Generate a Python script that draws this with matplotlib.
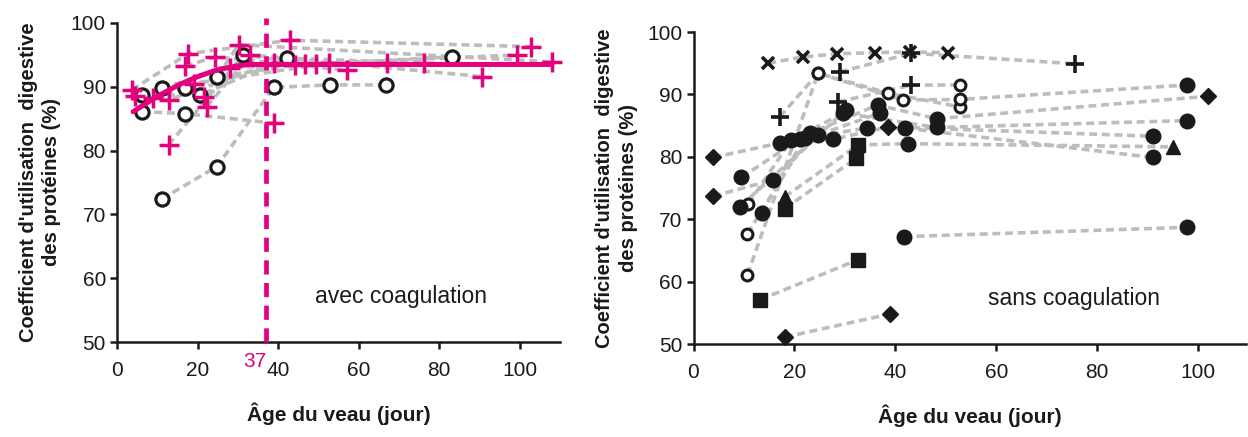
import matplotlib
matplotlib.use("Agg")
import matplotlib.pyplot as plt

plt.rcParams['font.family'] = ['Liberation Sans', 'DejaVu Sans']

PINK = '#E5007D'
GRAY = '#BDBDBD'

# ---------------- left panel: avec coagulation ----------------
# each calf: ages, values, marker per point ('o' open circle, '+' pink plus)
left_x = [
    [11.1, 24.8, 38.9, 53.0, 66.9],
    [6.1, 16.9, 38.9],
    [12.8, 31.4, 46.8],
    [6.1, 20.6, 42.2, 76.2],
    [3.7, 17.7, 43.0, 102.7],
    [16.9, 24.8, 44.3, 83.2],
    [22.3, 33.1, 90.7],
    [21.5, 30.2, 108.0],
    [16.9, 24.4, 57.1],
    [11.1, 28.0, 49.3],
    [9.0, 19.0, 52.6, 99.4],
    [4.5, 13.0, 38.9, 67.1],
]
left_y = [
    [72.4, 77.5, 89.9, 90.3, 90.3],
    [86.1, 85.8, 84.3],
    [80.9, 95.0, 93.6],
    [88.7, 88.7, 94.5, 93.7],
    [89.5, 95.2, 97.3, 96.3],
    [89.8, 91.6, 93.4, 94.7],
    [86.9, 95.0, 91.6],
    [88.4, 96.6, 93.9],
    [93.2, 94.7, 92.6],
    [89.8, 93.0, 93.5],
    [88.2, 90.5, 93.7, 95.0],
    [88.5, 88.0, 93.7, 93.7],
]
left_m = ['ooooo', 'oo+', '+o+', 'ooo+', '++++', 'oo+o', '+++', '+++',
          '+++', 'o++', '++++', '++++']

# fitted plateau model
fit_x = [4, 10, 15, 20, 25, 30, 33, 108]
fit_y = [86.1, 88.5, 90.2, 91.6, 92.7, 93.3, 93.5, 93.5]
breakpoint_age = 37

# ---------------- right panel: sans coagulation ----------------
# markers: 'o' open circle, 'O' filled circle, 'D' diamond, 's' square,
# '^' triangle, 'x' cross, '+' plus
right_x = [
    [14.8, 21.7, 28.4, 35.9, 42.9, 50.5],
    [29.0, 43.2, 75.7],
    [17.1, 24.7, 38.6, 52.8],
    [28.7, 43.2, 52.8],
    [10.7, 24.7, 41.5, 52.8, 97.8],
    [10.7, 23.1, 36.5, 48.2, 101.9],
    [10.9, 19.4, 29.7, 48.2, 97.8],
    [3.9, 17.1, 27.7, 38.6, 91.0],
    [9.5, 21.1, 34.3, 41.9, 91.0],
    [3.9, 15.8, 24.7, 36.9],
    [9.2, 30.2],
    [13.5, 22.0],
    [18.1, 32.6, 42.5, 95.1],
    [18.1, 32.3],
    [13.2, 32.6],
    [18.1, 38.9],
    [41.7, 97.8],
]
right_y = [
    [95.0, 96.0, 96.5, 96.7, 96.8, 96.7],
    [93.6, 96.6, 94.9],
    [86.4, 93.4, 90.2, 88.0],
    [88.8, 91.5, 91.5],
    [61.1, 93.4, 89.1, 89.2, 91.5],
    [67.7, 83.8, 88.3, 86.1, 89.7],
    [72.5, 82.7, 87.0, 84.7, 85.8],
    [79.9, 82.2, 82.8, 84.8, 83.3],
    [76.7, 82.9, 84.6, 84.6, 79.9],
    [73.7, 76.3, 83.5, 87.0],
    [72.0, 87.5],
    [71.0, 83.0],
    [73.6, 81.9, 82.1, 81.6],
    [71.7, 79.8],
    [57.1, 63.5],
    [51.1, 54.8],
    [67.2, 68.7],
]
right_m = ['xxxxxx', '+++', '+ooo', '++o', 'ooooO', 'oOOOD', 'oOOOO',
           'DOODO', 'OOOOO', 'DOOO', 'OO', 'OO', '^sO^', 'ss', 'ss', 'DD', 'OO']

xticks = [0, 20, 40, 60, 80, 100]
yticks = [50, 60, 70, 80, 90, 100]

fig = plt.figure(figsize=(12.48, 4.37), dpi=100)
axL = fig.add_axes([117 / 1248, 1 - 342 / 437, 443 / 1248, 319 / 437])
axR = fig.add_axes([693.5 / 1248, 1 - 344 / 437, 552 / 1248, 312 / 437])

INK = '#1a1a1a'
STYLE_L = {
    'o': dict(marker='o', ms=9.5, mfc='white', mec=INK, mew=2.3),
    '+': dict(marker='+', ms=15, mec=PINK, mew=2.5),
}
STYLE_R = {
    'o': dict(marker='o', ms=7.8, mfc='white', mec=INK, mew=2.2),
    'O': dict(marker='o', ms=10.5, mfc=INK, mec=INK, mew=1),
    'D': dict(marker='D', ms=8, mfc=INK, mec=INK, mew=1),
    's': dict(marker='s', ms=10, mfc=INK, mec=INK, mew=1),
    '^': dict(marker='^', ms=10, mfc=INK, mec=INK, mew=1),
    'x': dict(marker='x', ms=9, mec=INK, mew=2.6),
    '+': dict(marker='+', ms=12.5, mec=INK, mew=2.6),
}


def draw(ax, xs, ys, ms, styles):
    for x, y in zip(xs, ys):
        ax.plot(x, y, color=GRAY, lw=2.6, ls=(0, (2.2, 1.3)), zorder=2,
                clip_on=False)
    for x, y, m in zip(xs, ys, ms):
        for xi, yi, mi in zip(x, y, m):
            ax.plot([xi], [yi], ls='none', zorder=3, clip_on=False,
                    **styles[mi])


draw(axL, left_x, left_y, left_m, STYLE_L)
axL.plot(fit_x, fit_y, color=PINK, lw=3.6, zorder=4, solid_capstyle='round')
axL.plot([breakpoint_age, breakpoint_age], [50, 100.8], color=PINK, lw=3.4,
         ls=(0, (3.0, 1.8)), zorder=5, clip_on=False)
axL.annotate(str(breakpoint_age), xy=(breakpoint_age, 50), xytext=(0, -14),
             textcoords='offset points', ha='right', va='center',
             color=PINK, fontsize=15)
axL.text(70.4, 57.2, 'avec coagulation', fontsize=16.5, ha='center',
         va='center', color=INK)

draw(axR, right_x, right_y, right_m, STYLE_R)
axR.text(75.5, 57.3, 'sans coagulation', fontsize=16.5, ha='center',
         va='center', color=INK)

ylabel = "Coefficient d'utilisation  digestive\ndes protéines (%)"
for ax, xmax in ((axL, 110), (axR, 109.4)):
    ax.set_xlim(0, xmax)
    ax.set_ylim(50, 100)
    ax.set_xticks(xticks)
    ax.set_yticks(yticks)
    for s in ('top', 'right'):
        ax.spines[s].set_visible(False)
    for s in ('left', 'bottom'):
        ax.spines[s].set_linewidth(1.8)
        ax.spines[s].set_color(INK)
    ax.tick_params(direction='out', length=5, width=1.8, labelsize=15,
                   colors=INK, pad=3)
    ax.tick_params(axis='x', pad=9)
    ax.set_xlabel('Âge du veau (jour)', fontsize=15, fontweight='bold',
                  labelpad=16, color=INK)
    ax.set_ylabel(ylabel, fontsize=14.5, fontweight='bold', labelpad=7,
                  linespacing=1.3, color=INK)
    ax.patch.set_visible(False)

fig.savefig('out.png', dpi=100, facecolor='white')
